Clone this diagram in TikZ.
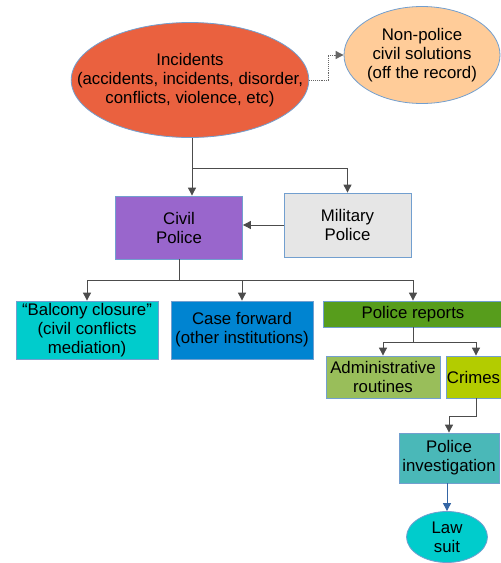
\documentclass[tikz,border=0pt]{standalone}
\usepackage{fontspec}
\setmainfont{Liberation Sans}
\usetikzlibrary{arrows.meta, positioning, shapes.geometric, calc}
\definecolor{edgeblue}{RGB}{114,159,207}
\definecolor{incidred}{RGB}{234,97,63}
\definecolor{peach}{RGB}{255,204,153}
\definecolor{civilpurple}{RGB}{153,102,204}
\definecolor{milgray}{RGB}{230,230,230}
\definecolor{cyanfill}{RGB}{0,204,204}
\definecolor{fwdblue}{RGB}{0,132,209}
\definecolor{reportgreen}{RGB}{87,157,28}
\definecolor{adminGreen}{RGB}{153,190,90}
\definecolor{crimeyellow}{RGB}{179,204,0}
\definecolor{investteal}{RGB}{74,184,184}
\definecolor{suitarrow}{RGB}{52,101,164}

\begin{document}
\begin{tikzpicture}[
  x=1pt, y=-1pt,
  box/.style={rectangle, draw=edgeblue, line width=0.8pt, align=center, inner sep=1pt,
    font=\fontsize{16.8}{19}\selectfont},
  oval/.style={ellipse, draw=edgeblue, line width=0.8pt, align=center, inner sep=0pt,
    font=\fontsize{16.8}{19}\selectfont},
  link/.style={line width=0.9pt, black!70},
  arrow/.style={link, -{Triangle[length=8pt, width=8pt]}},
  offrecord/.style={arrow, densely dotted, black!60}
]
  \clip (0,0) rectangle (501,563);

  % Incidents layer
  \node[oval, fill=incidred, inner xsep=-29pt, minimum width=234, minimum height=115] (incid) at (190,80)
    {Incidents\\(accidents, incidents, disorder,\\conflicts, violence, etc)};
  \node[oval, fill=peach, minimum width=156, minimum height=97] (nonpol) at (422,55)
    {Non-police\\civil solutions\\(off the record)};

  % Police layer
  \node[box, fill=civilpurple, minimum width=127, minimum height=63] (civil) at (179,227.5)
    {Civil\\Police};
  \node[box, fill=milgray, minimum width=127, minimum height=64] (military) at (347.5,225)
    {Military\\Police};

  % Outcome layer
  \node[box, fill=cyanfill, minimum width=142, minimum height=58] (balcony) at (87,330)
    {``Balcony closure''\\(civil conflicts\\mediation)};
  \node[box, fill=fwdblue, minimum width=142, minimum height=58] (casefwd) at (242,330)
    {Case forward\\(other institutions)};
  \node[box, fill=reportgreen, minimum width=180, minimum height=26] (reports) at (413,314)
    {Police reports};

  % Reports layer
  \node[box, fill=adminGreen, minimum width=114, minimum height=42] (admin) at (383,377)
    {Administrative\\routines};
  \node[box, fill=crimeyellow, minimum width=58, minimum height=42] (crimes) at (476,377)
    {Crimes\hspace{5pt}};
  \node[box, fill=investteal, minimum width=100, minimum height=50] (invest) at (449,458)
    {Police\\investigation};
  \node[oval, fill=cyanfill, inner ysep=-3pt, minimum width=81, minimum height=51] (suit) at (447,537)
    {Law\\suit};

  % Branch points
  \coordinate (incidsplit) at (192,168);
  \coordinate (civilsplit) at (179,280);
  \coordinate (reportsplit) at (413,342);

  % Arrows
  \draw[offrecord] (incid.east) -- ++(19,0) |- (nonpol.west);
  \draw[link] (incid.south -| incidsplit) -- (incidsplit);
  \draw[arrow] (incidsplit) -- (incidsplit |- civil.north);
  \draw[arrow] (incidsplit) -| (military.north);
  \draw[arrow] (military.west) -- (military.west -| civil.east);
  \draw[link] (civil.south) -- (civilsplit);
  \draw[arrow] (civilsplit) -| (balcony.north);
  \draw[arrow] (civilsplit) -| (casefwd.north);
  \draw[arrow] (civilsplit) -| (reports.north);
  \draw[link] (reports.south) -- (reportsplit);
  \draw[arrow] (reportsplit) -| (admin.north);
  \draw[arrow] (reportsplit) -| (crimes.north);
  \draw[arrow] (crimes.south) -- ++(0,18) -| (invest.north);
  \draw[arrow, suitarrow] (invest.south -| suit) -- (suit.north);
\end{tikzpicture}
\end{document}
